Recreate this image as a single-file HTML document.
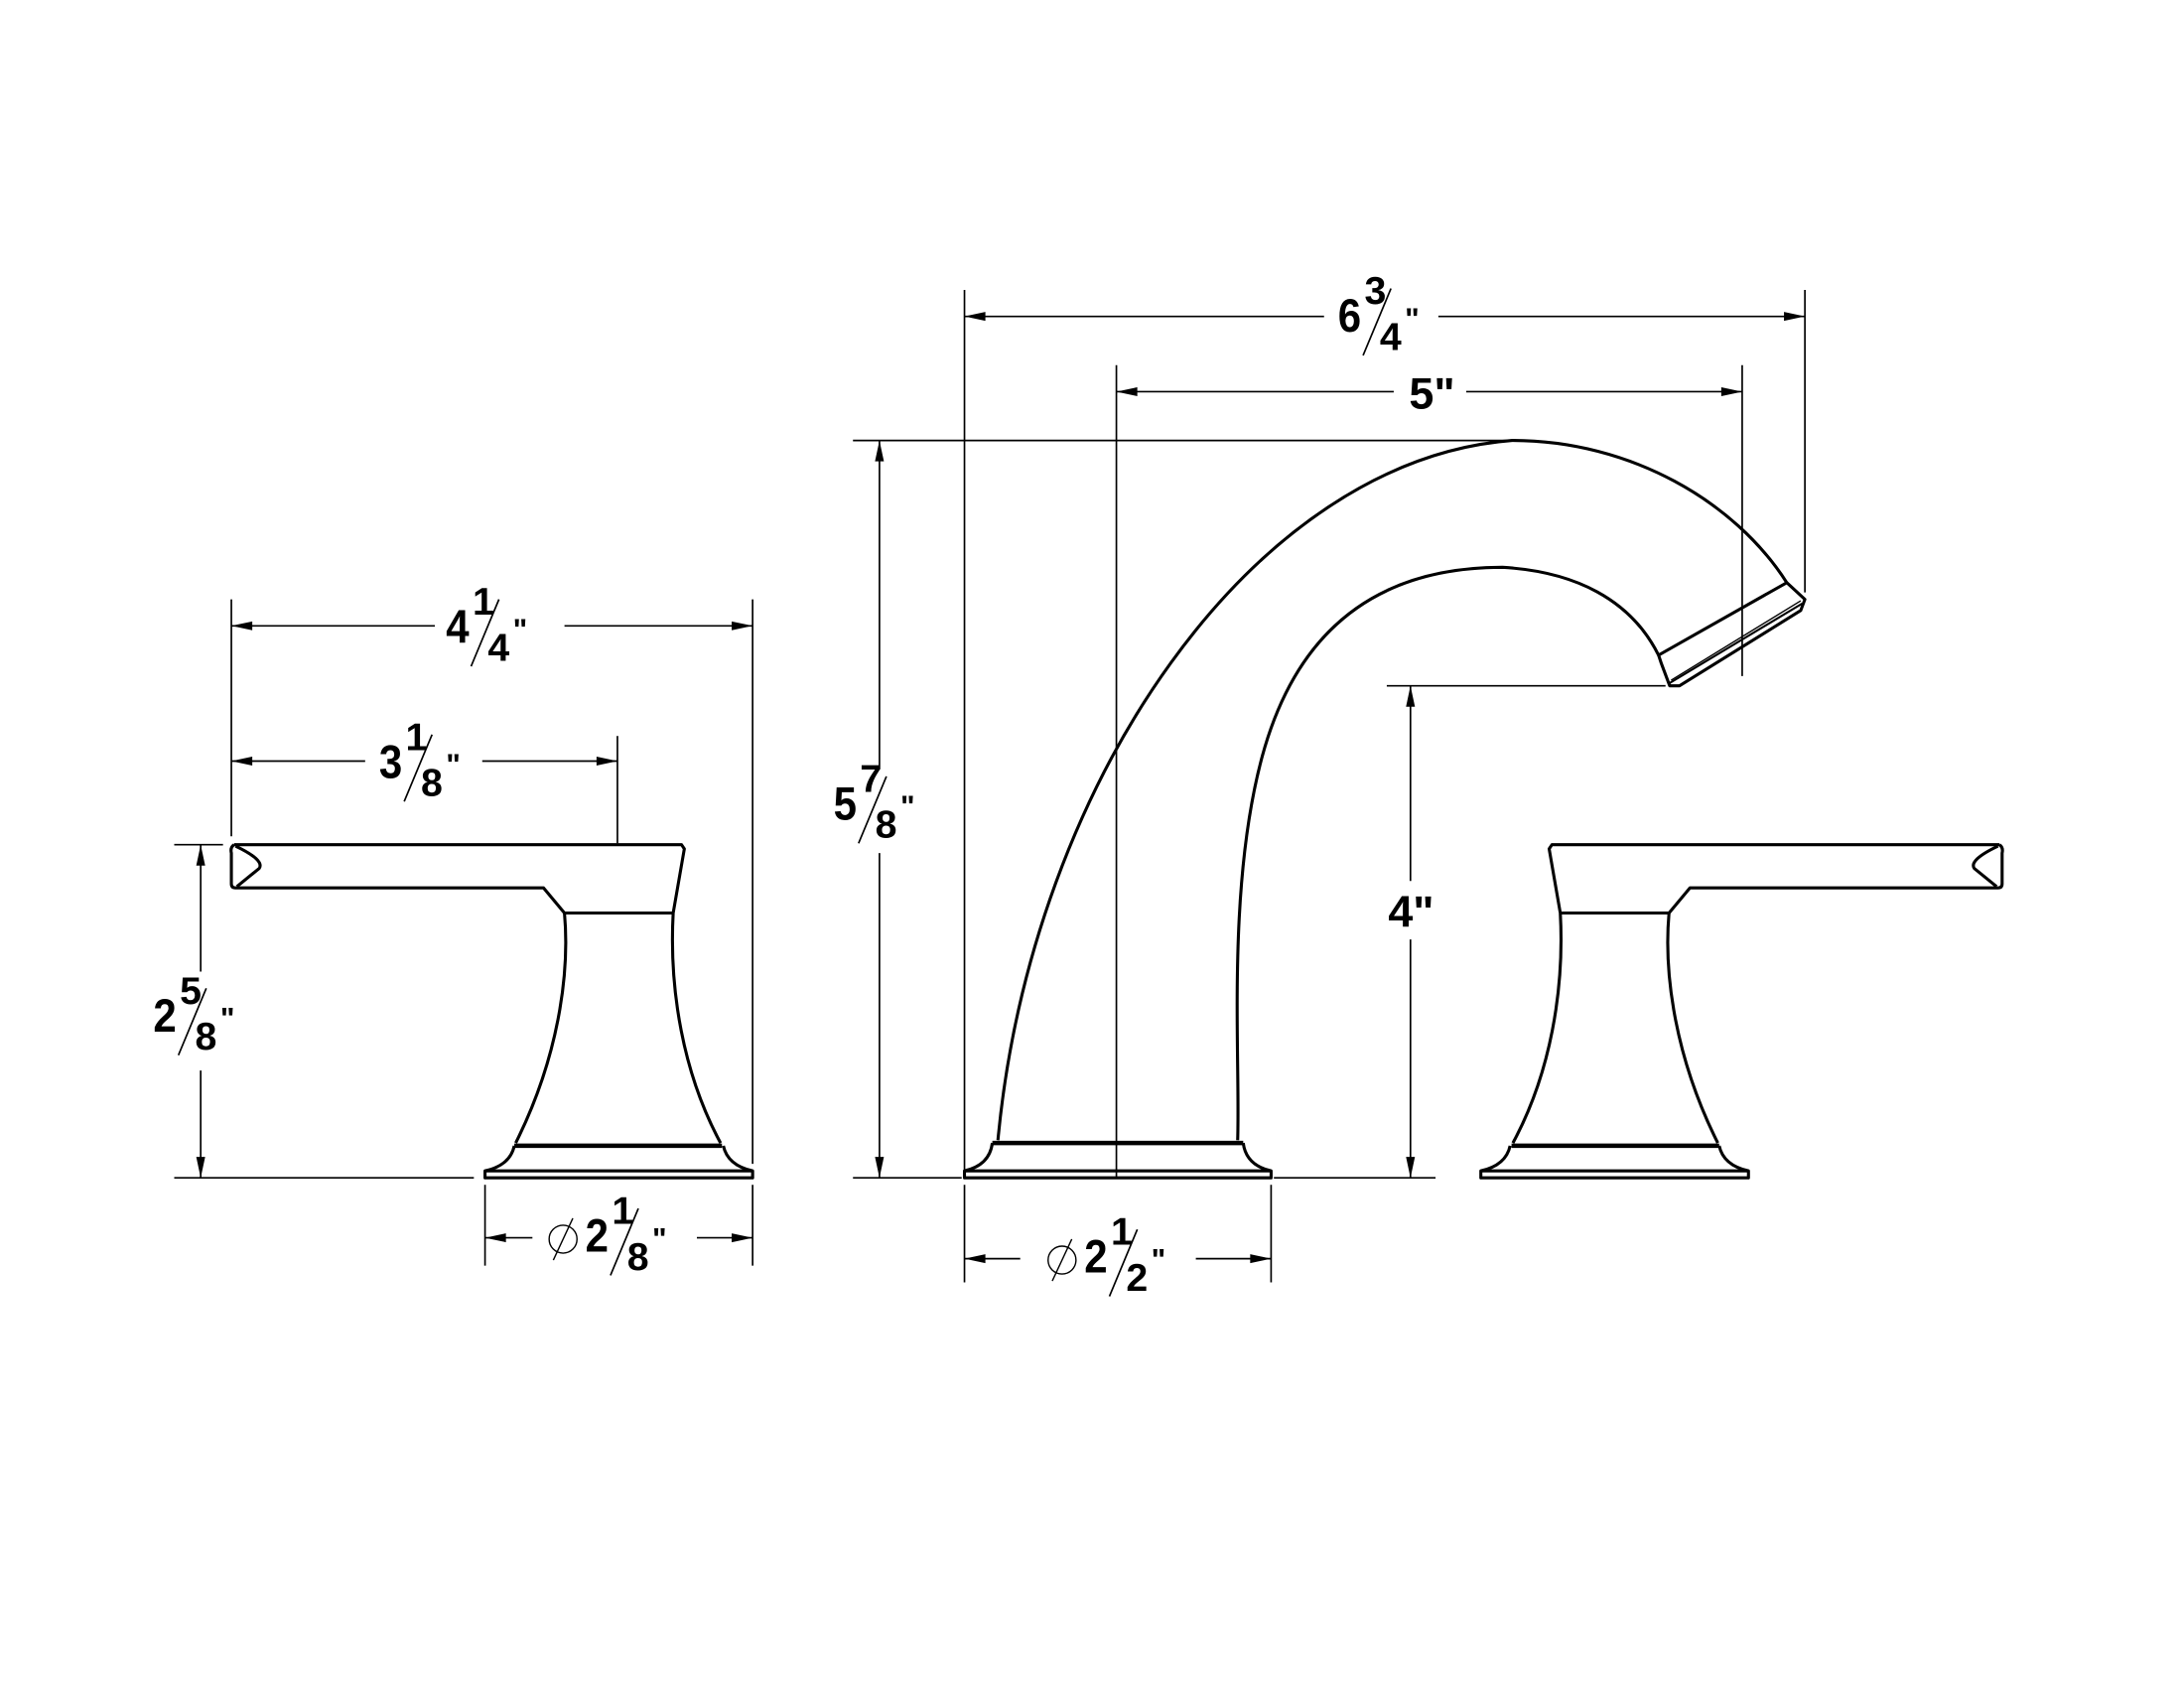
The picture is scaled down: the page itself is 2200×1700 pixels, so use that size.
<!DOCTYPE html>
<html><head><meta charset="utf-8"><style>
html,body{margin:0;padding:0;background:#fff;width:2200px;height:1700px;overflow:hidden}
svg{display:block}
text{font-family:"Liberation Sans",sans-serif;font-weight:bold;fill:#000}
</style></head><body>
<svg width="2200" height="1700" viewBox="0 0 1567 1211" preserveAspectRatio="none" xmlns="http://www.w3.org/2000/svg">
<defs>
<g id="handle" fill="none" stroke="#000" stroke-width="2.2" stroke-linejoin="round">
  <path d="M168,606 L489,606 L491,609 L483,655 M168,606 Q165,608 166,612 L166,634 Q166,637 169,637 L390,637 L405,655 L483,655"/>
  <path d="M169,607 Q190,617 186,623 L170,636"/>
  <path d="M405,655 C409,700 400,760 370,820"/>
  <path d="M483,655 C480,710 490,770 517,820"/>
  <line x1="369" y1="822" x2="518" y2="822" stroke-width="3.2"/>
  <path d="M369,822 Q366,836 348,840 L348,845 L540,845 L540,840 Q522,836 519,822"/>
  <line x1="348" y1="840" x2="540" y2="840"/>
</g>
<polygon id="ar" points="0,0 -15,-3.2 -15,3.2" fill="#000"/>
</defs>
<g stroke="#000" stroke-width="1.2" fill="none">
  <line x1="166" y1="430" x2="166" y2="600"/>
  <line x1="540" y1="430" x2="540" y2="835"/>
  <line x1="166" y1="449" x2="312" y2="449"/><line x1="405" y1="449" x2="540" y2="449"/>
  <line x1="443" y1="528" x2="443" y2="605"/>
  <line x1="166" y1="546" x2="262" y2="546"/><line x1="346" y1="546" x2="443" y2="546"/>
  <line x1="125" y1="606" x2="160" y2="606"/>
  <line x1="125" y1="845" x2="340" y2="845"/>
  <line x1="144" y1="606" x2="144" y2="697"/><line x1="144" y1="768" x2="144" y2="845"/>
  <line x1="348" y1="850" x2="348" y2="908"/><line x1="540" y1="850" x2="540" y2="908"/>
  <line x1="348" y1="888" x2="382" y2="888"/><line x1="500" y1="888" x2="540" y2="888"/>
  <line x1="692" y1="208" x2="692" y2="840"/>
  <line x1="1295" y1="208" x2="1295" y2="425"/>
  <line x1="692" y1="227" x2="950" y2="227"/><line x1="1032" y1="227" x2="1295" y2="227"/>
  <line x1="801" y1="262" x2="801" y2="845"/>
  <line x1="1250" y1="262" x2="1250" y2="485"/>
  <line x1="801" y1="281" x2="1000" y2="281"/><line x1="1052" y1="281" x2="1250" y2="281"/>
  <line x1="612" y1="316" x2="1090" y2="316"/>
  <line x1="612" y1="845" x2="690" y2="845"/><line x1="914" y1="845" x2="1030" y2="845"/>
  <line x1="631" y1="316" x2="631" y2="552"/><line x1="631" y1="612" x2="631" y2="845"/>
  <line x1="995" y1="492" x2="1195" y2="492"/>
  <line x1="1012" y1="492" x2="1012" y2="632"/><line x1="1012" y1="674" x2="1012" y2="845"/>
  <line x1="692" y1="850" x2="692" y2="920"/><line x1="912" y1="850" x2="912" y2="920"/>
  <line x1="692" y1="903" x2="732" y2="903"/><line x1="858" y1="903" x2="912" y2="903"/>
</g>
<use href="#ar" transform="translate(166,449) rotate(180)"/><use href="#ar" transform="translate(540,449)"/>
<use href="#ar" transform="translate(166,546) rotate(180)"/><use href="#ar" transform="translate(443,546)"/>
<use href="#ar" transform="translate(144,606) rotate(-90)"/><use href="#ar" transform="translate(144,845) rotate(90)"/>
<use href="#ar" transform="translate(348,888) rotate(180)"/><use href="#ar" transform="translate(540,888)"/>
<use href="#ar" transform="translate(692,227) rotate(180)"/><use href="#ar" transform="translate(1295,227)"/>
<use href="#ar" transform="translate(801,281) rotate(180)"/><use href="#ar" transform="translate(1250,281)"/>
<use href="#ar" transform="translate(631,316) rotate(-90)"/><use href="#ar" transform="translate(631,845) rotate(90)"/>
<use href="#ar" transform="translate(1012,492) rotate(-90)"/><use href="#ar" transform="translate(1012,845) rotate(90)"/>
<use href="#ar" transform="translate(692,903) rotate(180)"/><use href="#ar" transform="translate(912,903)"/>
<use href="#handle"/>
<use href="#handle" transform="translate(1602.5,0) scale(-1,1)"/>
<g fill="none" stroke="#000" stroke-width="2.2" stroke-linejoin="round">
  <path d="M716,818 C740,560 900,330 1085,316 C1170,316 1245,360 1282,418"/>
  <path d="M888,818 C890,760 880,640 905,545 C930,450 990,407 1078,407 C1130,410 1170,430 1190,470"/>
  <path d="M1190,470 L1282,418 L1295,430 L1292,438 L1205,492 L1198,492 L1192,476 Z"/>
  <line x1="1198" y1="490" x2="1293" y2="433" stroke-width="1.5"/>
  <line x1="1199" y1="488" x2="1292" y2="431" stroke-width="1"/>
  <line x1="712" y1="820" x2="892" y2="820" stroke-width="3.2"/>
  <path d="M712,820 Q710,836 692,840 L692,845 L912,845 L912,840 Q894,836 892,820"/>
  <line x1="692" y1="840" x2="912" y2="840"/>
</g>
<g id="labels">
  <g transform="translate(320,461)"><text font-size="34" transform="scale(0.88,1)">4</text><text x="19" y="-20" font-size="28">1</text><line x1="18" y1="17" x2="38" y2="-31" stroke="#000" stroke-width="1.2"/><text x="30" y="13" font-size="28">4</text><text x="48" y="-2" font-size="22">"</text></g>
  <g transform="translate(272,558)"><text font-size="34" transform="scale(0.88,1)">3</text><text x="19" y="-20" font-size="28">1</text><line x1="18" y1="17" x2="38" y2="-31" stroke="#000" stroke-width="1.2"/><text x="30" y="13" font-size="28">8</text><text x="48" y="-2" font-size="22">"</text></g>
  <g transform="translate(110,740)"><text font-size="34" transform="scale(0.88,1)">2</text><text x="19" y="-20" font-size="28">5</text><line x1="18" y1="17" x2="38" y2="-31" stroke="#000" stroke-width="1.2"/><text x="30" y="13" font-size="28">8</text><text x="48" y="-2" font-size="22">"</text></g>
  <g transform="translate(420,898)"><circle cx="-16" cy="-9" r="10" fill="none" stroke="#000" stroke-width="1"/><line x1="-23" y1="6" x2="-9" y2="-24" stroke="#000" stroke-width="1"/><text font-size="34" transform="scale(0.88,1)">2</text><text x="19" y="-20" font-size="28">1</text><line x1="18" y1="17" x2="38" y2="-31" stroke="#000" stroke-width="1.2"/><text x="30" y="13" font-size="28">8</text><text x="48" y="-2" font-size="22">"</text></g>
  <g transform="translate(960,238)"><text font-size="34" transform="scale(0.88,1)">6</text><text x="19" y="-20" font-size="28">3</text><line x1="18" y1="17" x2="38" y2="-31" stroke="#000" stroke-width="1.2"/><text x="30" y="13" font-size="28">4</text><text x="48" y="-2" font-size="22">"</text></g>
  <text x="1011" y="293" font-size="32">5"</text>
  <g transform="translate(598,588)"><text font-size="34" transform="scale(0.88,1)">5</text><text x="19" y="-20" font-size="28">7</text><line x1="18" y1="17" x2="38" y2="-31" stroke="#000" stroke-width="1.2"/><text x="30" y="13" font-size="28">8</text><text x="48" y="-2" font-size="22">"</text></g>
  <text x="996" y="665" font-size="32">4"</text>
  <g transform="translate(778,913)"><circle cx="-16" cy="-9" r="10" fill="none" stroke="#000" stroke-width="1"/><line x1="-23" y1="6" x2="-9" y2="-24" stroke="#000" stroke-width="1"/><text font-size="34" transform="scale(0.88,1)">2</text><text x="19" y="-20" font-size="28">1</text><line x1="18" y1="17" x2="38" y2="-31" stroke="#000" stroke-width="1.2"/><text x="30" y="13" font-size="28">2</text><text x="48" y="-2" font-size="22">"</text></g>
</g>
</svg>
</body></html>
